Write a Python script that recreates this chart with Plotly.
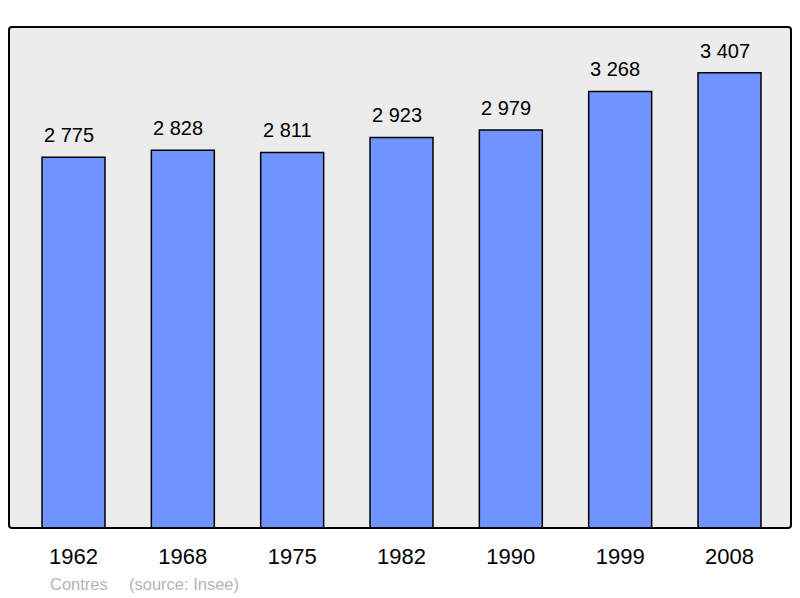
import plotly.graph_objects as go

years = ["1962", "1968", "1975", "1982", "1990", "1999", "2008"]
population = [2775, 2828, 2811, 2923, 2979, 3268, 3407]
value_labels = ["2 775", "2 828", "2 811", "2 923", "2 979", "3 268", "3 407"]

W, H = 800, 598
L, R, T, B = 9, 791, 27, 528
FONT = "Liberation Sans, Arial, sans-serif"

fig = go.Figure()
fig.add_trace(go.Bar(
    x=years, y=population, width=0.576,
    marker=dict(color="#7094ff", line=dict(color="#000000", width=1.5)),
    hoverinfo="skip",
))

for i, (v, lab) in enumerate(zip(population, value_labels)):
    fig.add_annotation(x=i, y=v, text=lab, showarrow=False, xref="x", yref="y",
                       yanchor="middle", yshift=22, xshift=-5,
                       font=dict(family=FONT, size=20, color="#000"))

pw, ph = R - L, B - T
fig.add_annotation(text="Contres", x=(48 - L) / pw, xref="paper", y=0, yref="paper",
                   showarrow=False, xanchor="left", yanchor="middle", yshift=-(584 - B),
                   font=dict(family=FONT, size=16.5, color="#b4b4b4"))
fig.add_annotation(text="(source: Insee)", x=(127 - L) / pw, xref="paper", y=0, yref="paper",
                   showarrow=False, xanchor="left", yanchor="middle", yshift=-(584 - B),
                   font=dict(family=FONT, size=16.5, color="#b4b4b4"))

# rounded border in paper coords
rx, ry = 3 / pw, 3 / ph
path = (f"M {rx},0 L {1-rx},0 Q 1,0 1,{ry} L 1,{1-ry} Q 1,1 {1-rx},1 "
        f"L {rx},1 Q 0,1 0,{1-ry} L 0,{ry} Q 0,0 {rx},0 Z")
fig.add_shape(type="path", path=path, xref="paper", yref="paper",
              line=dict(color="#000", width=2), layer="above")

fig.update_layout(
    width=W, height=H,
    margin=dict(l=L, r=W - R, t=T, b=H - B, pad=0),
    paper_bgcolor="#ffffff", plot_bgcolor="#ececec",
    showlegend=False,
    xaxis=dict(type="category", range=[-0.59, 6.5625], showgrid=False, zeroline=False,
               showline=False, ticks="", ticklabelstandoff=13,
               tickfont=dict(family=FONT, size=22, color="#000")),
    yaxis=dict(range=[0, 3750], showgrid=False, zeroline=False, showline=False,
               showticklabels=False, ticks=""),
)

fig.write_html("out.html", config={"displayModeBar": False},
               post_script="document.body.style.margin='0';")
